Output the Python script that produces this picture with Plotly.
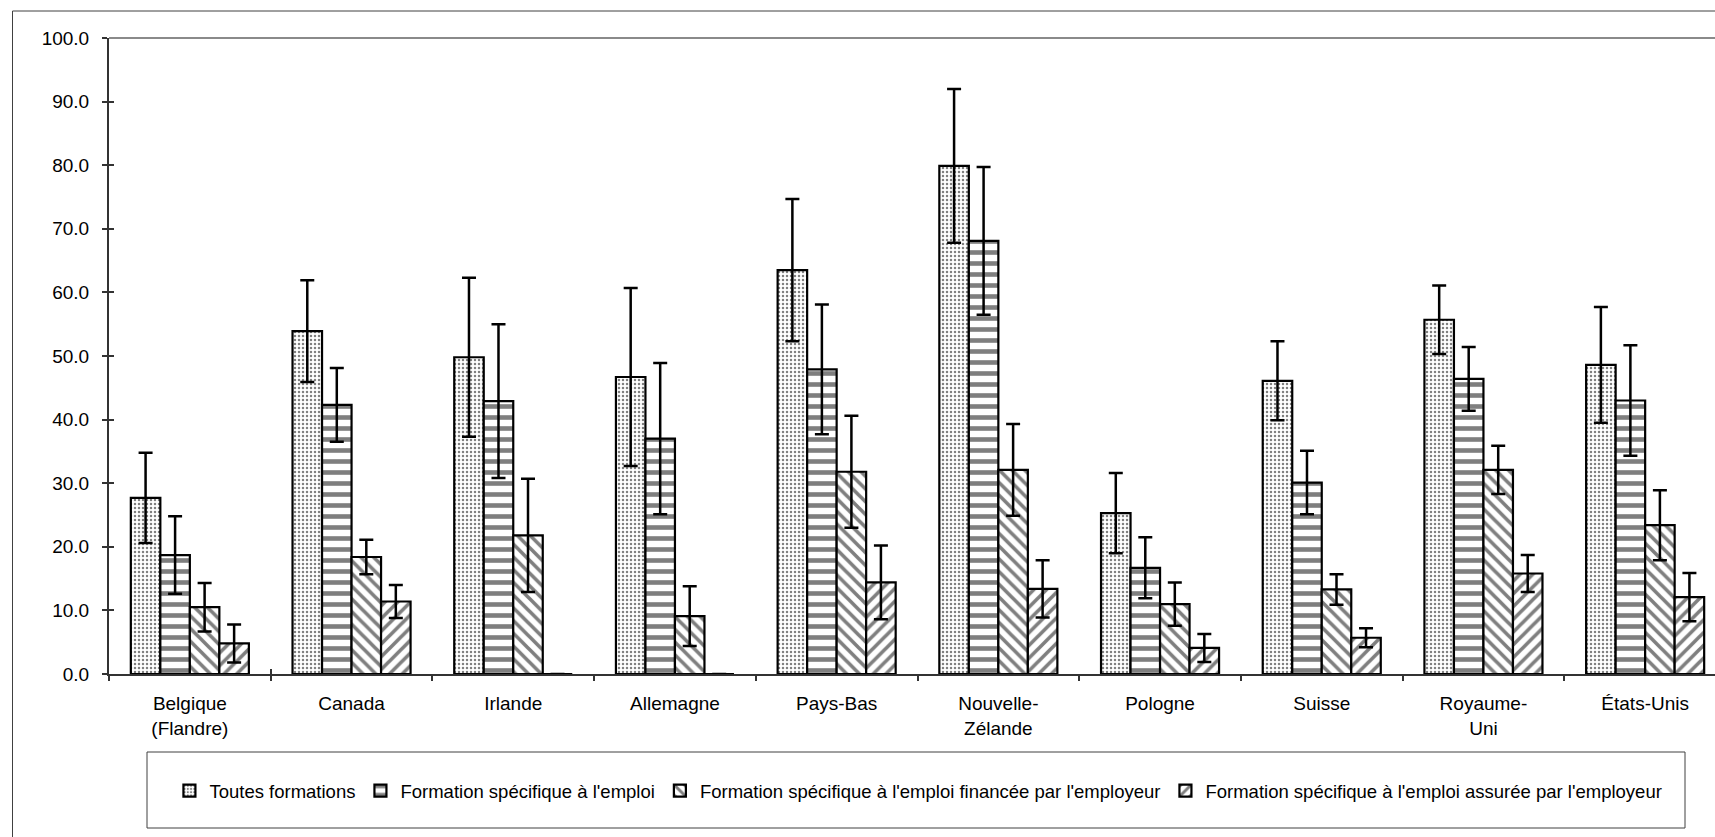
import plotly.graph_objects as go

# Pays et libellés de l'axe des catégories
pays = ["Belgique (Flandre)", "Canada", "Irlande", "Allemagne", "Pays-Bas",
        "Nouvelle-Zélande", "Pologne", "Suisse", "Royaume-Uni", "États-Unis"]
etiquettes = ["Belgique<br>(Flandre)", "Canada", "Irlande", "Allemagne", "Pays-Bas",
              "Nouvelle-<br>Zélande", "Pologne", "Suisse", "Royaume-<br>Uni", "États-Unis"]

# Taux de participation (%) et erreurs types associées
toutes = [27.7, 53.9, 49.8, 46.7, 63.5, 79.9, 25.3, 46.1, 55.7, 48.6]
toutes_err = [7.1, 8.0, 12.5, 14.0, 11.2, 12.1, 6.3, 6.2, 5.4, 9.1]

emploi = [18.7, 42.3, 42.9, 37.0, 47.9, 68.1, 16.7, 30.1, 46.4, 43.0]
emploi_err = [6.1, 5.8, 12.1, 11.9, 10.2, 11.6, 4.8, 5.0, 5.0, 8.7]

financee = [10.5, 18.4, 21.8, 9.1, 31.8, 32.1, 11.0, 13.3, 32.1, 23.4]
financee_err = [3.8, 2.7, 8.9, 4.7, 8.8, 7.2, 3.4, 2.4, 3.8, 5.5]

assuree = [4.8, 11.4, 0.0, 0.0, 14.4, 13.4, 4.1, 5.7, 15.8, 12.1]
assuree_err = [3.0, 2.6, 0.0, 0.0, 5.8, 4.5, 2.2, 1.5, 2.9, 3.8]

series = [
    ("Toutes formations", toutes, toutes_err, dict(shape=".", size=4, solidity=0.3)),
    ("Formation spécifique à l'emploi", emploi, emploi_err, dict(shape="-", size=11, solidity=0.42)),
    ("Formation spécifique à l'emploi financée par l'employeur", financee, financee_err,
     dict(shape="\\", size=9, solidity=0.4)),
    ("Formation spécifique à l'emploi assurée par l'employeur", assuree, assuree_err,
     dict(shape="/", size=9, solidity=0.4)),
]

FONT = "Liberation Sans, Arial, sans-serif"
AXIS_SIZE = 19
LEGEND_SIZE = 18.5

fig = go.Figure()
for nom, vals, errs, motif in series:
    fig.add_trace(go.Bar(
        name=nom, x=pays, y=vals,
        marker=dict(color="white",
                    line=dict(color="black", width=2.2),
                    pattern=dict(fgcolor="black", bgcolor="white", fillmode="overlay", **motif)),
        error_y=dict(type="data", array=errs, visible=True, color="black", thickness=2.5, width=7),
    ))

W, H = 1715, 837
L, T, B = 109, 38, 163
plot_w = W - L
cat_px = 161.7
x_max = -0.5 + plot_w / cat_px

fig.update_layout(
    width=W, height=H,
    margin=dict(l=L, r=0, t=T, b=B, pad=0),
    paper_bgcolor="white", plot_bgcolor="white",
    font=dict(family=FONT, size=AXIS_SIZE, color="black"),
    barmode="group", bargap=0.27, bargroupgap=0,
    showlegend=True,
    legend=dict(orientation="h", x=0.504, xanchor="center", y=-0.184, yanchor="middle",
                font=dict(size=LEGEND_SIZE), itemwidth=30, bgcolor="rgba(0,0,0,0)",
                borderwidth=0, traceorder="normal"),
    xaxis=dict(type="category", range=[-0.5, x_max], tickmode="array", tickvals=pays,
               ticktext=etiquettes, showline=True, linecolor="#333333", linewidth=2,
               ticks="outside", ticklen=5, tickwidth=1.5, tickcolor="#333333",
               tickson="boundaries", showgrid=False, zeroline=False,
               tickfont=dict(size=AXIS_SIZE), ticklabelstandoff=11),
    xaxis2=dict(type="category", range=[-0.5, x_max], overlaying="x",
                tickmode="array", tickvals=pays, ticktext=["" for _ in pays],
                ticks="inside", ticklen=5, tickwidth=1.5, tickcolor="#333333",
                tickson="boundaries", showgrid=False, showline=False, side="bottom",
                anchor="y"),
    yaxis=dict(range=[0, 100], dtick=10, tick0=0, tickformat=".1f", showline=True,
               linecolor="#333333", linewidth=2, ticks="outside", ticklen=5,
               tickwidth=1.5, tickcolor="#333333", showgrid=False, zeroline=False,
               tickfont=dict(size=AXIS_SIZE), ticklabelstandoff=9),
    yaxis2=dict(range=[0, 100], dtick=10, tick0=0, overlaying="y", side="left",
                showticklabels=False, ticks="inside", ticklen=5, tickwidth=1.5,
                tickcolor="#333333", showgrid=False, showline=False, zeroline=False),
)

# Trace vide qui porte les graduations intérieures
fig.add_trace(go.Scatter(x=[pays[0]], y=[None], xaxis="x2", yaxis="y2",
                         showlegend=False, hoverinfo="skip"))

# Bordure supérieure de la zone de tracé
fig.add_shape(type="line", xref="paper", yref="paper", x0=0, x1=1, y0=1, y1=1,
              line=dict(color="#8a8a8a", width=2))

# Cadre extérieur du graphique
px_x = lambda v: (v - L) / plot_w
px_y = lambda v: (H - B - v) / (H - B - T)
fig.add_shape(type="line", xref="paper", yref="paper", x0=px_x(12.5), x1=px_x(12.5),
              y0=px_y(11), y1=px_y(H + 5), line=dict(color="#404040", width=1))
fig.add_shape(type="line", xref="paper", yref="paper", x0=px_x(12.5), x1=px_x(W + 5),
              y0=px_y(11), y1=px_y(11), line=dict(color="#404040", width=1))

# Cadre de la légende
fig.add_shape(type="rect", xref="paper", yref="paper", x0=px_x(147), x1=px_x(1685),
              y0=px_y(752), y1=px_y(828), line=dict(color="#404040", width=1),
              fillcolor="rgba(0,0,0,0)")

fig.write_html("out.html")
